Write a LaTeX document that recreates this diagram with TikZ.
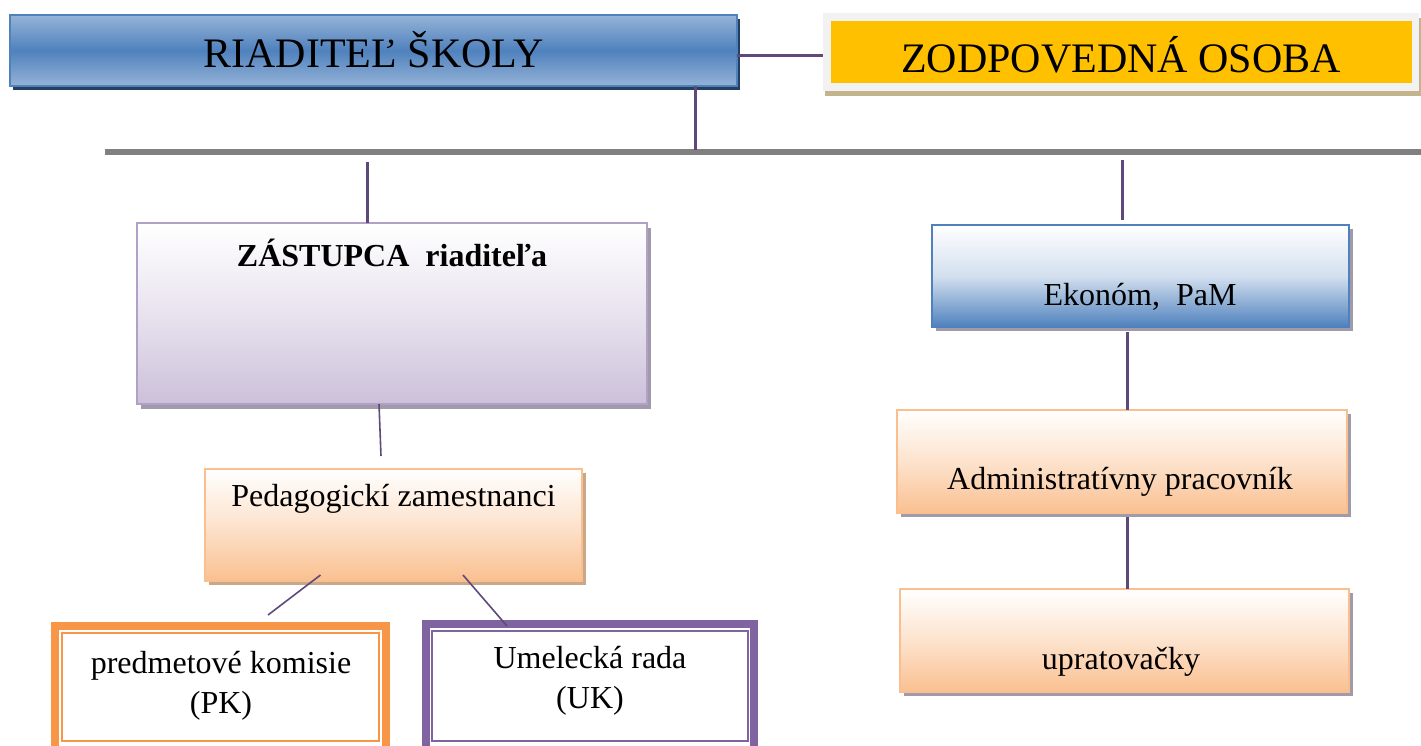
\documentclass[tikz,border=0pt]{standalone}
\usepackage{fontspec}
\setmainfont{Liberation Serif}
\usetikzlibrary{shadows,calc}

\definecolor{blueD}{HTML}{4F81BD}
\definecolor{blueL}{HTML}{95B3D7}
\definecolor{blueS}{HTML}{243F60}
\definecolor{gold}{HTML}{FFC000}
\definecolor{frameG}{HTML}{F2F2F2}
\definecolor{tanS}{HTML}{C4B48E}
\definecolor{connP}{HTML}{5F497A}
\definecolor{barG}{HTML}{808080}
\definecolor{lav}{HTML}{CCC0DA}
\definecolor{lavB}{HTML}{B2A1C7}
\definecolor{greyS}{HTML}{A09AAA}
\definecolor{peach}{HTML}{FAC090}
\definecolor{peachB}{HTML}{FABF8F}
\definecolor{peachS}{HTML}{C9A88A}
\definecolor{orgB}{HTML}{F79646}
\definecolor{purB}{HTML}{8064A2}

\begin{document}
\begin{tikzpicture}[x=1pt,y=-1pt,
  every node/.style={inner sep=0pt, outer sep=0pt},
  hdr/.style={font=\fontsize{42}{48}\selectfont},
  txt/.style={font=\fontsize{32}{40}\selectfont, align=center},
  boxbase/.style={rectangle, line width=1.5pt},
  dirbox/.style={boxbase, draw=blueD, top color=blueL, bottom color=blueL, middle color=blueD,
    drop shadow={shadow xshift=3pt, shadow yshift=-4pt, opacity=1, fill=blueS}},
  zodframe/.style={rectangle, fill=frameG,
    drop shadow={shadow xshift=2pt, shadow yshift=-5pt, opacity=1, fill=tanS}},
  zodbox/.style={rectangle, fill=gold},
  lavbox/.style={boxbase, draw=lavB, top color=white, bottom color=lav, middle color=lav!45,
    drop shadow={shadow xshift=4pt, shadow yshift=-5pt, opacity=1, fill=greyS}},
  ekobox/.style={boxbase, draw=blueD, top color=white, bottom color=blueD, middle color=blueD!25,
    drop shadow={shadow xshift=4pt, shadow yshift=-4pt, opacity=1, fill=greyS}},
  pchbox/.style={boxbase, draw=peachB, top color=white, bottom color=peach, middle color=peach!45,
    drop shadow={shadow xshift=4pt, shadow yshift=-4pt, opacity=1, fill=#1}},
  pchbox/.default=greyS,
  dblbox/.style={rectangle, draw=#1, line width=8pt, fill=white},
  conn/.style={draw=connP, line width=3pt},
  thinconn/.style={draw=connP, line width=1.6pt},
  barline/.style={draw=barG, line width=6pt}
]
\useasboundingbox (0,0) rectangle (1421,745);
\clip (0,0) rectangle (1421,745);

% top level
\node[dirbox, minimum width=727, minimum height=71] (dir) at (373.5,50.5) {};
\node[hdr] (dirT) at (373.5,50) {RIADITEĽ ŠKOLY};
\node[zodframe, minimum width=596, minimum height=78] (zod) at (1121,52) {};
\node[zodbox, minimum width=581, minimum height=62] (zodin) at (1121.5,52) {};
\node[hdr] (zodT) at (1121,55) {ZODPOVEDNÁ OSOBA};
\draw[conn] ([yshift=-4.5pt]dir.east) -- ([yshift=-4.5pt]dir.east -| zod.west);

% horizontal bar
\coordinate (barL) at (105,152);
\coordinate (barR) at (1421,152);
\draw[barline] (barL) -- (barR);
\coordinate (dj) at (695.5,150);
\draw[conn] (dir.south -| dj) -- (dj);

% left branch
\node[lavbox, minimum width=510, minimum height=181] (dep) at (392,313.5) {};
\node[txt, font=\fontsize{32}{40}\selectfont\bfseries] (depT) at (392,253) {ZÁSTUPCA\ \ riaditeľa};
\coordinate (lj) at (367,162);
\draw[conn] (lj) -- (lj |- dep.north);

\node[pchbox=peachS, minimum width=377, minimum height=112] (ped) at (393.5,525) {};
\node[txt] (pedT) at (393.5,499) {Pedagogickí zamestnanci};
\coordinate (dp) at (381,456);
\draw[thinconn] ($(dep.south)+(-13,0)$) -- (dp);

\node[dblbox=orgB, minimum width=331, minimum height=126] (pk) at (220.5,689) {};
\draw[orgB, line width=2.5pt] ($(pk.north west)+(7,7)$) rectangle ($(pk.south east)+(-7,-11)$);
\node[txt] (pkT) at (221,686) {predmetové komisie\\(PK)};

\node[dblbox=purB, minimum width=328, minimum height=128] (uk) at (590,688) {};
\draw[purB, line width=2pt] ($(uk.north west)+(6,7)$) rectangle ($(uk.south east)+(-6,-11)$);
\node[txt] (ukT) at (590,681) {Umelecká rada\\(UK)};

\coordinate (pkc) at (268,615);
\coordinate (ukc) at (507,626);
\draw[thinconn] ($(ped.south)+(-73,-6)$) -- (pkc);
\draw[thinconn] ($(ped.south)+(69.5,-6)$) -- (ukc);

% right branch
\node[ekobox, minimum width=417, minimum height=102] (eko) at (1140.5,276) {};
\node[txt] (ekoT) at (1140,297) {Ekonóm,\ \ PaM};
\coordinate (rj) at (1122,160);
\coordinate (rje) at (1122,220);
\draw[conn] (rj) -- (rje);

\node[pchbox, minimum width=450, minimum height=103] (adm) at (1122,461.5) {};
\node[txt] (admT) at (1120,482) {Administratívny pracovník};

\node[pchbox, minimum width=449, minimum height=103] (upr) at (1124.5,640.5) {};
\node[txt] (uprT) at (1121,662) {upratovačky};

\coordinate (ea) at (1127,332);
\coordinate (au) at (1127,517);
\draw[conn] (ea) -- (ea |- adm.north);
\draw[conn] (au) -- (au |- upr.north);
\end{tikzpicture}
\end{document}
